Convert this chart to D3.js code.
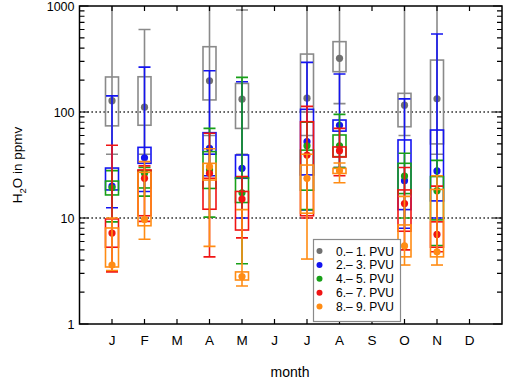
<!DOCTYPE html>
<html>
<head>
<meta charset="utf-8">
<script src="https://cdn.jsdelivr.net/npm/d3@7"></script>
<style>
  body { margin: 0; background: #fff; }
  text { font-family: "Liberation Sans", Arial, sans-serif; fill: #000; }
</style>
</head>
<body>
<div id="container"></div>
<script>
let w = 512;
let h = 381;

// months on the x axis (1..12)
let months = ["J", "F", "M", "A", "M", "J", "J", "A", "S", "O", "N", "D"];
let yTicks = [1, 10, 100, 1000];

let seriesNames = ["0.\u2013 1. PVU", "2.\u2013 3. PVU", "4.\u2013 5. PVU", "6.\u2013 7. PVU", "8.\u2013 9. PVU"];
let seriesColors = ["#707070", "#1414f0", "#18a018", "#f01414", "#ff8c14"];
let boxColors = ["#8a8a8a", "#1414f0", "#18a018", "#f01414", "#ff8c14"];

// [month, min, q1, mean, q3, max]  (ppmv)
let pvu01 = [
  [1, 40, 74, 128, 214, 1500],
  [2, 40, 75, 111, 215, 600],
  [4, 60, 130, 197, 413, 1500],
  [5, 40, 70, 132, 186, 917],
  [7, 60, 100, 135, 352, 1500],
  [8, 120, 240, 321, 461, 1500],
  [10, 60, 72.6, 116, 150, 1500],
  [11, 40, 50, 133, 309, 1500]
];
let pvu23 = [
  [1, 12.5, 18.4, 20, 29.6, 142],
  [2, 17.8, 32.8, 37, 46.4, 265],
  [4, 25, 40, 45.4, 63.8, 245],
  [5, 10, 23.7, 29.4, 39.3, 193],
  [7, 11.9, 25.5, 52.5, 106, 294],
  [8, 30, 66, 75, 84, 228],
  [10, 8, 12, 22.5, 54.5, 133],
  [11, 10, 14.5, 27.8, 67.6, 545]
];
let pvu45 = [
  [1, 9.2, 16.5, 19.3, 22.3, 28],
  [2, 16.1, 19.2, 26.4, 28, 30],
  [4, 10.2, 19, 28.5, 42.3, 70],
  [5, 3.7, 14, 17.3, 24, 212],
  [7, 12, 18.3, 48, 43.7, 80],
  [8, 30, 37.9, 48, 60.7, 95],
  [10, 10, 17, 24.9, 32.8, 40.8],
  [11, 5.5, 9.6, 18.1, 24.6, 35]
];
let pvu67 = [
  [1, 3.1, 5.3, 7.2, 9.8, 48.5],
  [2, 9.3, 10.5, 23.7, 28.4, 31],
  [4, 4.3, 12.1, 26.4, 23.7, 63],
  [5, 6.5, 7.7, 15.1, 17.8, 24.6],
  [7, 10, 10.5, 39.3, 81, 113],
  [8, 25, 37.6, 43.2, 46.8, 70],
  [10, 5, 7.5, 13.7, 18.4, 30],
  [11, 4.8, 5.3, 7, 9.2, 20]
];
let pvu89 = [
  [1, 3.2, 3.45, 3.6, 8.05, 10],
  [2, 6.3, 8.45, 9.7, 27, 34],
  [4, 5.4, 22.8, 30.5, 32.8, 45],
  [5, 2.28, 2.6, 2.8, 3.1, 12],
  [7, 4.1, 11.1, 23.7, 31.6, 40],
  [8, 21.5, 26.3, 27.9, 29.4, 33],
  [10, 3.6, 4.3, 5.45, 8.6, 16],
  [11, 3.6, 4.3, 4.8, 18.6, 25]
];
let allSeries = [pvu01, pvu23, pvu45, pvu67, pvu89];

let svg = d3.select("#container")
  .append("svg")
  .attr("width", w)
  .attr("height", h);

let pLeft = 79.5, pRight = 502, pTop = 6, pBottom = 324;

let x = d3.scaleLinear().domain([0, 13]).range([pLeft, pRight]);
let y = d3.scaleLog().domain([1, 1000]).range([pBottom, pTop]);

svg.append("clipPath").attr("id", "plotclip")
  .append("rect")
  .attr("x", pLeft).attr("y", pTop)
  .attr("width", pRight - pLeft).attr("height", pBottom - pTop);

// dotted reference lines
svg.selectAll(".grid")
  .data([10, 100])
  .enter()
  .append("line")
  .attr("x1", pLeft).attr("x2", pRight)
  .attr("y1", d => y(d)).attr("y2", d => y(d))
  .attr("stroke", "#000")
  .attr("stroke-width", 1.3)
  .attr("stroke-dasharray", "1.3,2.7");

let plot = svg.append("g").attr("clip-path", "url(#plotclip)");
let half = 6.5;

allSeries.forEach(function(series, i) {
  let g = plot.append("g");
  let col = boxColors[i];
  // whiskers
  g.selectAll(".wh").data(series).enter()
    .append("line")
    .attr("x1", d => x(d[0])).attr("x2", d => x(d[0]))
    .attr("y1", d => y(d[1])).attr("y2", d => y(d[5]))
    .attr("stroke", col).attr("stroke-width", 1.6);
  // caps
  [1, 5].forEach(function(k) {
    g.selectAll(".cap" + k).data(series).enter()
      .append("line")
      .attr("x1", d => x(d[0]) - half + 0.5).attr("x2", d => x(d[0]) + half - 0.5)
      .attr("y1", d => y(d[k])).attr("y2", d => y(d[k]))
      .attr("stroke", col).attr("stroke-width", 1.6);
  });
  // boxes
  g.selectAll(".box").data(series).enter()
    .append("rect")
    .attr("x", d => x(d[0]) - half)
    .attr("width", half * 2)
    .attr("y", d => y(Math.max(d[2], d[4])))
    .attr("height", d => Math.abs(y(d[2]) - y(d[4])))
    .attr("fill", "none")
    .attr("stroke", col).attr("stroke-width", 1.6);
  // mean dots
  g.selectAll(".dot").data(series).enter()
    .append("circle")
    .attr("cx", d => x(d[0])).attr("cy", d => y(d[3]))
    .attr("r", 3.6)
    .attr("fill", seriesColors[i]);
});

// frame
svg.append("rect")
  .attr("x", pLeft).attr("y", pTop)
  .attr("width", pRight - pLeft).attr("height", pBottom - pTop)
  .attr("fill", "none").attr("stroke", "#000").attr("stroke-width", 1.5);

// y ticks (major + minor), both sides inward
let minor = [];
for (let dec = 1; dec < 1000; dec *= 10) {
  for (let m = 2; m <= 9; m++) minor.push(dec * m);
}
svg.selectAll(".ymin").data(minor).enter().append("path")
  .attr("d", d => "M" + pLeft + "," + y(d) + "h5M" + pRight + "," + y(d) + "h-5")
  .attr("stroke", "#000").attr("stroke-width", 1.2);
svg.selectAll(".ymaj").data(yTicks).enter().append("path")
  .attr("d", d => "M" + pLeft + "," + y(d) + "h9M" + pRight + "," + y(d) + "h-9")
  .attr("stroke", "#000").attr("stroke-width", 1.2);
svg.selectAll(".ylab").data(yTicks).enter().append("text")
  .attr("x", pLeft - 5).attr("y", d => y(d) + 4.5)
  .attr("text-anchor", "end")
  .attr("font-size", 12.5)
  .text(d => d);

// x ticks, top and bottom inward
svg.selectAll(".xt").data(months).enter().append("path")
  .attr("d", (d, i) => "M" + x(i + 1) + "," + pBottom + "v-5M" + x(i + 1) + "," + pTop + "v5")
  .attr("stroke", "#000").attr("stroke-width", 1.2);
svg.selectAll(".xlab").data(months).enter().append("text")
  .attr("x", (d, i) => x(i + 1)).attr("y", 345)
  .attr("text-anchor", "middle")
  .attr("font-size", 13.5)
  .text(d => d);

svg.append("text")
  .attr("x", 290).attr("y", 377)
  .attr("text-anchor", "middle")
  .attr("font-size", 14)
  .text("month");

let yl = svg.append("text")
  .attr("transform", "translate(22,165) rotate(-90)")
  .attr("text-anchor", "middle")
  .attr("font-size", 13.5);
yl.append("tspan").text("H");
yl.append("tspan").attr("font-size", 9.5).attr("dy", 4).text("2");
yl.append("tspan").attr("dy", -4).text("O in ppmv");

// legend
let lg = svg.append("g");
lg.append("rect")
  .attr("x", 313.5).attr("y", 239.5)
  .attr("width", 87).attr("height", 82)
  .attr("fill", "#fff")
  .attr("stroke", "#8a8a8a").attr("stroke-width", 1.2);
seriesNames.forEach(function(name, i) {
  lg.append("circle")
    .attr("cx", 319.5).attr("cy", 251 + i * 13.9)
    .attr("r", 3).attr("fill", seriesColors[i]);
  lg.append("text")
    .attr("x", 336).attr("y", 255.5 + i * 13.9)
    .attr("font-size", 12)
    .text(name);
});
</script>
</body>
</html>
